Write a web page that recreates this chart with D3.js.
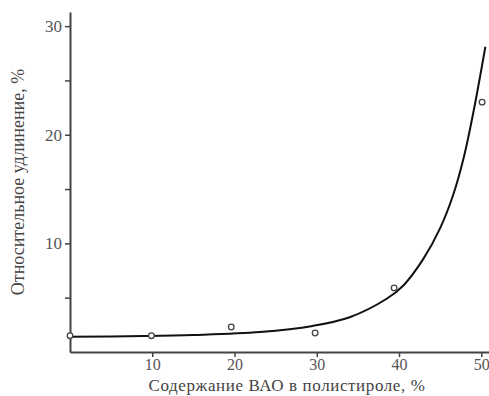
<!DOCTYPE html>
<html>
<head>
<meta charset="utf-8">
<script src="https://cdn.jsdelivr.net/npm/d3@7/dist/d3.min.js"></script>
<style>
  html, body { margin: 0; padding: 0; background: #fff; }
  svg { display: block; }
  .tick text { font-family: "Liberation Serif", "DejaVu Serif", serif; font-size: 16px; fill: #555; }
</style>
</head>
<body>
<div id="chart"></div>
<script>
// измеренные точки
const pointX = [0, 9.9, 19.6, 29.8, 39.4, 50.1];
const pointY = [1.5, 1.5, 2.3, 1.75, 5.9, 23.0];

// аппроксимирующая кривая
const curveX = [0, 8.9, 15, 23.1, 29.5, 34, 38.5, 40.5, 42.9, 45, 46.6, 47.9, 49.1, 50.5];
const curveY = [1.4, 1.47, 1.57, 1.84, 2.4, 3.2, 4.9, 6.1, 8.5, 11.4, 14.5, 18.0, 22.3, 28.1];

const xTicks = [10, 20, 30, 40, 50];
const yTicks = [5, 10, 15, 20, 25, 30];
const yLabelled = [10, 20, 30];

const xTitle = "Содержание ВАО в полистироле, %";
const yTitle = "Относительное удлинение, %";

const width = 489, height = 396;

const svg = d3.select("#chart").append("svg")
  .attr("width", width)
  .attr("height", height);

const x = d3.scaleLinear().domain([0, 51]).range([70, 489.5]);
const y = d3.scaleLinear().domain([0, 31.3]).range([352, 12]);

// оси
const xAxis = svg.append("g")
  .attr("transform", `translate(0,${y(0)})`)
  .call(d3.axisBottom(x).tickValues(xTicks).tickSize(5).tickSizeOuter(0).tickPadding(2));

const yAxis = svg.append("g")
  .attr("transform", `translate(${x(0)},0)`)
  .call(d3.axisLeft(y).tickValues(yTicks).tickSize(5).tickSizeOuter(0).tickPadding(3)
    .tickFormat(d => yLabelled.includes(d) ? d : ""));

yAxis.selectAll(".tick text").style("font-size", "17px");

[xAxis, yAxis].forEach(a => {
  a.select(".domain").attr("stroke", "#444").attr("stroke-width", 2);
  a.selectAll(".tick line").attr("stroke", "#444").attr("stroke-width", 1.5);
});

// кривая
const line = d3.line()
  .x((d, i) => x(curveX[i]))
  .y(d => y(d))
  .curve(d3.curveCatmullRom.alpha(0.5));

svg.append("path")
  .datum(curveY)
  .attr("d", line)
  .attr("fill", "none")
  .attr("stroke", "#111")
  .attr("stroke-width", 2);

// точки
svg.append("g")
  .selectAll("circle")
  .data(pointY)
  .join("circle")
  .attr("cx", (d, i) => x(pointX[i]))
  .attr("cy", d => y(d))
  .attr("r", 2.8)
  .attr("fill", "#fff")
  .attr("stroke", "#444")
  .attr("stroke-width", 1.3);

// подписи осей
svg.append("text")
  .attr("x", 287)
  .attr("y", 391)
  .attr("text-anchor", "middle")
  .style("font-family", "'Liberation Serif', 'DejaVu Serif', serif")
  .style("font-size", "17px")
  .style("letter-spacing", "0.6px")
  .style("fill", "#444")
  .text(xTitle);

svg.append("text")
  .attr("transform", `translate(24,182) rotate(-90)`)
  .attr("text-anchor", "middle")
  .style("font-family", "'Liberation Serif', 'DejaVu Serif', serif")
  .style("font-size", "18px")
  .style("fill", "#444")
  .text(yTitle);
</script>
</body>
</html>
